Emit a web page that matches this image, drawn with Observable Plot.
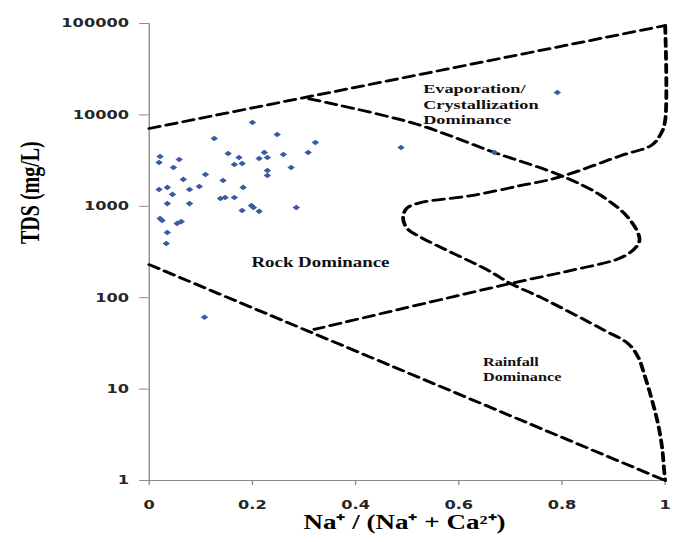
<!DOCTYPE html>
<html>
<head>
<meta charset="utf-8">
<script src="https://cdn.jsdelivr.net/npm/d3@7"></script>
<script src="https://cdn.jsdelivr.net/npm/@observablehq/plot@0.6"></script>
<style>
  html, body { margin: 0; padding: 0; background: #fff; }
  #chart { width: 678px; height: 542px; overflow: hidden; }
</style>
</head>
<body>
<div id="chart"></div>
<script>
// ---------- data ----------
// Samples: Na+/(Na+ + Ca2+) ratio and TDS (mg/L)
const sampleRatio = [0.126, 0.021, 0.019, 0.058, 0.047, 0.153, 0.174, 0.165, 0.180, 0.109,
  0.066, 0.143, 0.019, 0.035, 0.078, 0.097, 0.182, 0.045, 0.138, 0.147,
  0.165, 0.035, 0.078, 0.180, 0.198, 0.202, 0.213, 0.285, 0.021, 0.025,
  0.054, 0.062, 0.035, 0.033, 0.200, 0.248, 0.322, 0.223, 0.213, 0.229,
  0.260, 0.308, 0.275, 0.229, 0.229, 0.488, 0.669, 0.791, 0.107];
const sampleTDS = [5520, 3510, 3020, 3250, 2660, 3780, 3420, 2870, 2940, 2230,
  1970, 1920, 1530, 1610, 1530, 1650, 1610, 1350, 1220, 1250,
  1250, 1070, 1070, 900, 1020, 970, 880, 970, 735, 700,
  650, 680, 517, 392, 8260, 6100, 4990, 3880, 3340, 3420,
  3690, 3880, 2660, 2470, 2170, 4400, 3880, 17600, 61];

// Gibbs boundary lines
const upperBoundaryRatio = [0, 1];
const upperBoundaryTDS = [7100, 95000];
const outerBoundaryRatio = [1, 1, 0.992, 0.973, 0.915, 0.793, 0.721, 0.624, 0.527, 0.50, 0.492, 0.50, 0.527,
  0.657, 0.70, 0.76, 0.882, 0.928, 0.948, 0.959, 0.973, 0.986, 0.994, 0.998, 1];
const outerBoundaryTDS = [95000, 8700, 6260, 4630, 3600, 2070, 1690, 1310, 1100, 960, 754, 572, 456,
  199, 143, 100, 44, 31.5, 22.2, 14.8, 8.1, 4.2, 2.3, 1.3, 1];
const innerBoundaryRatio = [0.31, 0.514, 0.669, 0.798, 0.876, 0.928, 0.95, 0.946, 0.915, 0.818, 0.70, 0.32];
const innerBoundaryTDS = [15000, 8050, 3880, 2170, 1310, 754, 456, 372, 275, 199, 143, 45];
const lowerBoundaryRatio = [0, 1];
const lowerBoundaryTDS = [230, 1];

// Axes
const xTickValues = [0, 0.2, 0.4, 0.6, 0.8, 1];
const yTickValues = [1, 10, 100, 1000, 10000, 100000];
const xTitle = "Na⁺ / (Na⁺ + Ca²⁺)";
const yTitle = "TDS (mg/L)";

// Region labels
const regionNames = ["Evaporation/\nCrystallization\nDominance", "Rock Dominance", "Rainfall\nDominance"];
const regionRatio = [0.531, 0.198, 0.647];
const regionTDS = [22500, 240, 23.6];

// ---------- build ----------
const pts = (xs, ys) => xs.map((x, i) => ({x, y: ys[i]}));
const samples = pts(sampleRatio, sampleTDS);
const regions = regionNames.map((name, i) => ({name, x: regionRatio[i], y: regionTDS[i]}));

const W = 502, H = 542, OUT_W = 678;
const serif = "'Liberation Serif', 'Times New Roman', serif";
const dash = {stroke: "#000", strokeWidth: 2.8, strokeDasharray: "8,5", fill: "none"};

const plot = Plot.plot({
  width: W,
  height: H,
  marginLeft: 110,
  marginRight: 10,
  marginTop: 23,
  marginBottom: 62,
  style: {
    fontFamily: "'DejaVu Sans', Verdana, sans-serif",
    fontSize: "12px",
    fontWeight: "bold",
    color: "#262626",
    background: "#fff",
    overflow: "visible"
  },
  x: {domain: [0, 1], ticks: xTickValues, tickFormat: d => String(d), tickSize: 5, tickPadding: 15, label: null},
  y: {type: "log", domain: [1, 100000], ticks: yTickValues, tickFormat: d => String(d), tickSize: 7, tickPadding: 8, label: null},
  marks: [
    Plot.ruleX([0], {stroke: "#8a8a8a", strokeWidth: 1}),
    Plot.ruleY([1], {stroke: "#8a8a8a", strokeWidth: 1}),
    Plot.line(pts(upperBoundaryRatio, upperBoundaryTDS), {x: "x", y: "y", ...dash}),
    Plot.line(pts(lowerBoundaryRatio, lowerBoundaryTDS), {x: "x", y: "y", ...dash}),
    Plot.line(pts(outerBoundaryRatio, outerBoundaryTDS), {x: "x", y: "y", curve: "catmull-rom", ...dash}),
    Plot.line(pts(innerBoundaryRatio, innerBoundaryTDS), {x: "x", y: "y", curve: "catmull-rom", ...dash}),
    Plot.dot(samples, {x: "x", y: "y", symbol: "diamond2", r: 2.5, fill: "#3a5aa5", stroke: "none"}),
    Plot.text([regions[0]], {x: "x", y: "y", text: "name", textAnchor: "start", lineAnchor: "top",
      lineHeight: 1.12, fontSize: 13.5, fontFamily: serif, fontWeight: "bold", fill: "#111"}),
    Plot.text([regions[1]], {x: "x", y: "y", text: "name", textAnchor: "start", lineAnchor: "middle",
      fontSize: 14, fontFamily: serif, fontWeight: "bold", fill: "#111"}),
    Plot.text([regions[2]], {x: "x", y: "y", text: "name", textAnchor: "start", lineAnchor: "top",
      lineHeight: 1.25, fontSize: 12, fontFamily: serif, fontWeight: "bold", fill: "#111"}),
    Plot.text([yTitle], {frameAnchor: "left", rotate: -90, dx: -88, dy: -8, fontSize: 20,
      fontFamily: serif, fontWeight: "bold", fill: "#000"}),
    Plot.text([xTitle], {frameAnchor: "bottom", dy: 48, dx: -2, fontSize: 20,
      fontFamily: serif, fontWeight: "bold", fill: "#000"})
  ]
});

// axis tick strokes in gray
plot.querySelectorAll('g[aria-label$="axis tick"]').forEach(g => g.setAttribute("stroke", "#8a8a8a"));
plot.querySelectorAll('g[aria-label="x-axis"] line, g[aria-label="y-axis"] line').forEach(l => l.setAttribute("stroke", "#8a8a8a"));

// the reference picture is horizontally stretched: stretch the drawing the same way
plot.setAttribute("width", OUT_W);
plot.setAttribute("height", H);
plot.setAttribute("preserveAspectRatio", "none");
plot.style.width = OUT_W + "px";
plot.style.height = H + "px";
plot.style.maxWidth = "none";

document.getElementById("chart").appendChild(plot);
</script>
</body>
</html>
